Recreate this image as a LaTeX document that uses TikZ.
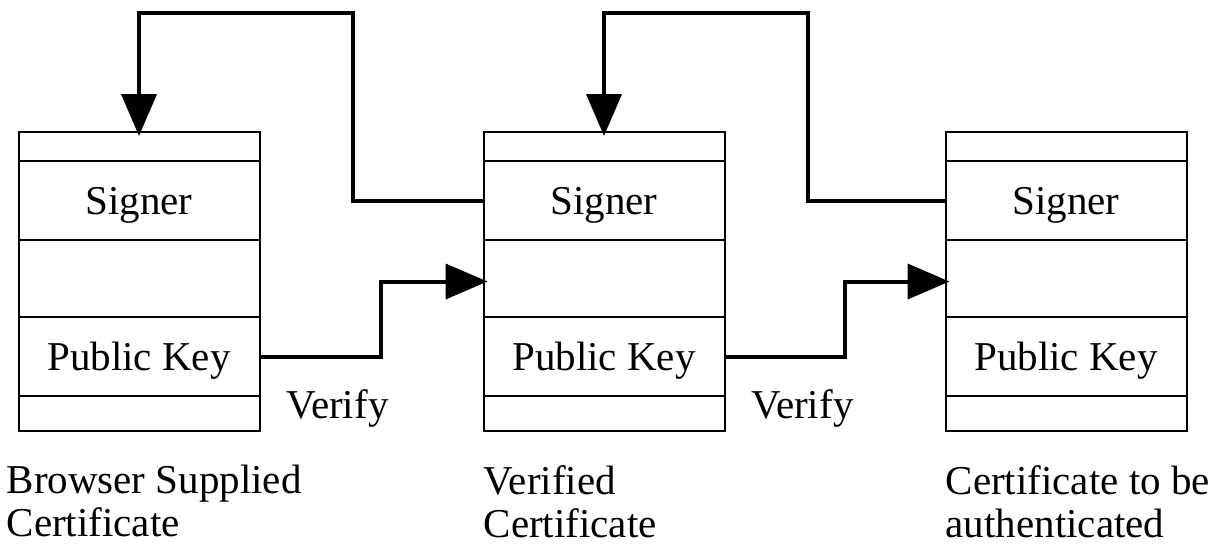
\documentclass[tikz,border=0pt]{standalone}
\usepackage{fontspec}
\setmainfont{Liberation Serif}
\usetikzlibrary{arrows.meta, positioning}

\begin{document}
\begin{tikzpicture}[x=1pt, y=-1pt,
	font=\fontsize{41}{43}\selectfont,
	row/.style={draw, line width=2pt, minimum width=241pt, inner sep=0pt, outer sep=0pt, text height=27pt, text depth=0pt},
	conn/.style={line width=4pt, -{Triangle[length=42pt, width=35pt]}, shorten >=-4pt},
	caption/.style={anchor=north west, align=left, inner sep=0pt}]
	\useasboundingbox (0,0) rectangle (1219,546);
	\foreach \n/\x in {1/139, 2/604, 3/1066} {
		\node [row, minimum height=29pt] (b\n top) at (\x,146.5) {};
		\node [row, minimum height=79pt, below=0pt of b\n top] (b\n sig) {Signer};
		\node [row, minimum height=77pt, below=0pt of b\n sig] (b\n mid) {};
		\node [row, minimum height=79pt, below=0pt of b\n mid] (b\n key) {Public Key};
		\node [row, minimum height=35pt, below=0pt of b\n key] (b\n bot) {};
	}
	\draw [conn] (b2sig.west) -- ++(-131,0) |- ([yshift=119pt]b1top.north) -- (b1top.north);
	\draw [conn] (b3sig.west) -- ++(-138,0) |- ([yshift=119pt]b2top.north) -- (b2top.north);
	\draw [conn] (b1key.east) -- ++(121,0) |- ([yshift=-3pt]b2mid.west);
	\draw [conn] (b2key.east) -- ++(120,0) |- ([yshift=-3pt]b3mid.west);
	\node [anchor=base west] (ver1) at ([xshift=23pt, yshift=-4.5pt]b1bot.east) {Verify};
	\node [anchor=base west] (ver2) at ([xshift=23pt, yshift=-4.5pt]b2bot.east) {Verify};
	\node [caption] (cap1) at ([xshift=-12pt, yshift=-34pt]b1bot.south west) {Browser Supplied\\Certificate};
	\node [caption] (cap2) at ([yshift=-34pt]b2bot.south west) {Verified\\Certificate};
	\node [caption] (cap3) at ([yshift=-34pt]b3bot.south west) {Certificate to be\\authenticated};
\end{tikzpicture}
\end{document}
